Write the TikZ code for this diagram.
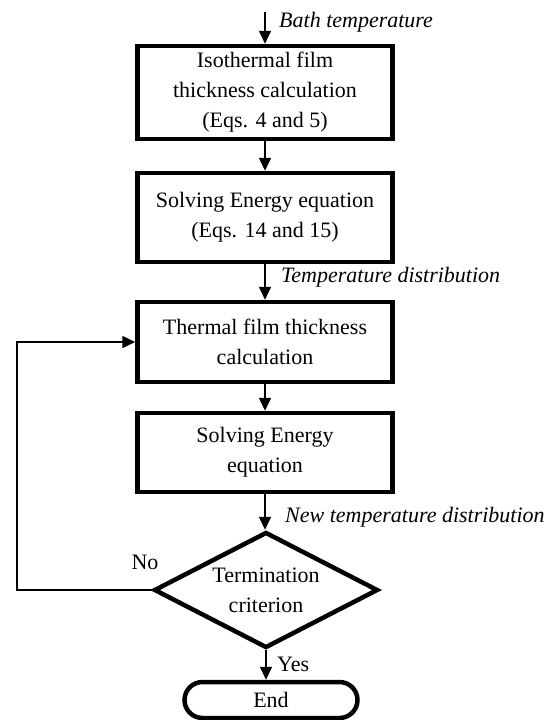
\documentclass[tikz,border=0pt]{standalone}
\usepackage{fontspec}
\setmainfont{Liberation Serif}
\usetikzlibrary{arrows.meta,shapes.geometric,shapes.misc}
\begin{document}
\begin{tikzpicture}[x=1pt,y=-1pt,
  every node/.style={font=\fontsize{22}{30}\selectfont},
  procbox/.style={draw, line width=4.5pt, minimum width=255pt, inner sep=0pt, align=center},
  decide/.style={draw, diamond, shape aspect=1.93, line width=4.5pt, minimum width=224pt, minimum height=116pt, inner sep=0pt, align=center},
  termbox/.style={draw, rounded rectangle, line width=4.5pt, minimum width=173pt, minimum height=36pt, inner sep=0pt},
  arr/.style={line width=1.6pt, -{Triangle[length=13pt,width=12pt]}},
  lbl/.style={font=\fontsize{22}{30}\selectfont\itshape, anchor=west, inner sep=0pt}]
\useasboundingbox (0,0) rectangle (555,720);
\node[procbox, minimum height=93pt] (b1) at (265,92.5) {Isothermal film\\thickness calculation\\(Eqs. 4 and 5)};
\node[procbox, minimum height=89pt] (b2) at (265,217.5) {Solving Energy equation\\(Eqs. 14 and 15)};
\node[procbox, minimum height=80pt] (b3) at (265,342) {Thermal film thickness\\calculation};
\node[procbox, minimum height=79pt] (b4) at (265,452.5) {Solving Energy\\equation};
\node[decide] (dia) at (266,590) {Termination\\criterion};
\node[termbox] (end) at (271,700) {End};
\coordinate (start) at (265,12);
\coordinate (lp) at (17,590);
\draw[arr] (start) -- (b1.north);
\draw[arr] (b1.south) -- (b2.north);
\draw[arr] (b2.south) -- (b3.north);
\draw[arr] (b3.south) -- (b4.north);
\draw[arr] (b4.south) -- (b4.south |- dia.north);
\draw[arr] (dia.south) -- (dia.south |- end.north);
\draw[arr] (dia.west) -- (lp) |- (b3.west);
\node[lbl] (t1) at (279,22) {Bath temperature};
\node[lbl] (t2) at (281,277) {Temperature distribution};
\node[lbl] (t3) at (285,517) {New temperature distribution};
\node[inner sep=0pt] (no) at (145,562) {No};
\node[anchor=west, inner sep=0pt] (yes) at (277,664) {Yes};
\end{tikzpicture}
\end{document}
